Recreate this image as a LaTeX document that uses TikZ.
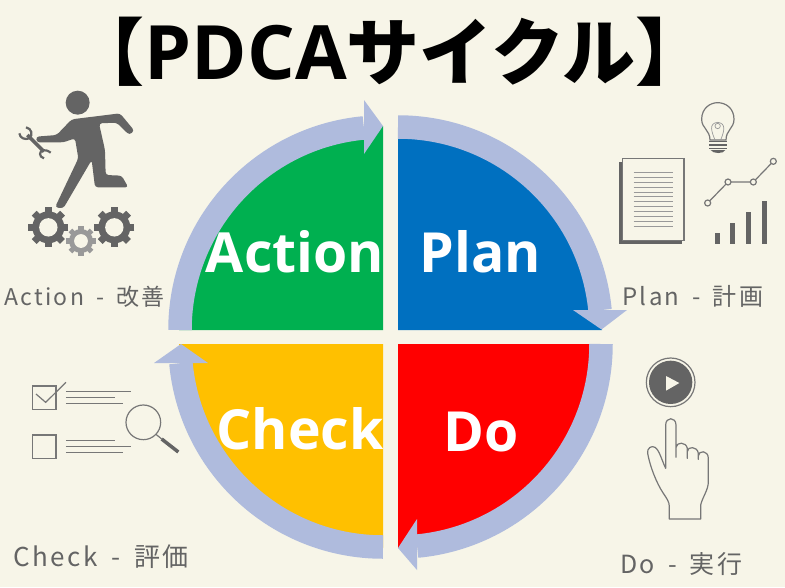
\documentclass[tikz,border=0pt]{standalone}
\usepackage{fontspec}
\setmainfont{Noto Sans CJK JP}
\newfontfamily\latinfont{Open Sans}
\newfontfamily\sidefont[LetterSpace=10]{Noto Sans CJK JP}
\newcommand{\sidedash}{\hspace{.52em}-\hspace{.52em}}
\definecolor{paper}{HTML}{F7F5E8}
\definecolor{ring}{HTML}{AFBBDD}
\definecolor{pdcagreen}{HTML}{00B050}
\definecolor{pdcablue}{HTML}{0070C0}
\definecolor{pdcayellow}{HTML}{FFC000}
\definecolor{icondark}{HTML}{646464}
\definecolor{iconmid}{HTML}{777777}
\definecolor{iconpale}{HTML}{999999}
\begin{document}
\begin{tikzpicture}[x=1pt,y=-1pt,
  head/.style={font=\bfseries\fontsize{73}{73}\selectfont,text=black,inner sep=0pt,anchor=base},
  phase/.style={font=\latinfont\bfseries\fontsize{55.3}{56}\selectfont,text=white,inner sep=0pt,anchor=base},
  side/.style={font=\sidefont\fontsize{#1}{#1}\selectfont,text=icondark,inner sep=0pt,anchor=base west},
  ringarc/.style={line width=23.5pt,draw=ring},
  thinline/.style={line width=1.2pt,draw=iconmid},
  listline/.style={line width=0.9pt,draw=iconmid}]
\useasboundingbox[fill=paper] (0,0) rectangle (785,587);
% quadrants
\foreach \cx/\cy/\ang/\col in {398/330/0/pdcablue,398/344/270/red,383/344/180/pdcayellow,383/330/90/pdcagreen}
  \fill[\col] (\cx,\cy) -- ++(\ang:204pt) arc[start angle=\ang,delta angle=90,radius=204pt] -- cycle;
% ring with its four heads
\foreach \cx/\cy/\ang/\last in {398/330/90/5.6,398/344/0/-84.6,383/344/270/185.4,383/330/180/95.4}
  \draw[ringarc] (\cx,\cy) ++(\ang:203pt) arc[start angle=\ang,end angle=\last,radius=203pt];
\fill[ring] (573,310) -- (627,310) -- (601.5,329.5) -- cycle;
\fill[ring] (417,519) -- (417,570) -- (398,548) -- cycle;
\fill[ring] (154,363) -- (208,363) -- (181,344) -- cycle;
\fill[ring] (364,100) -- (364,154) -- (383,126) -- cycle;
% texts
\node[head] (title) at (390,79) {【{\latinfont\fontsize{75}{75}\selectfont PDCA}サイクル】};
\node[phase] (plan) at (480.5,272) {Plan};
\node[phase] (do) at (481,451) {Do};
\node[phase] (check) at (300,449) {Check};
\node[phase] (action) at (295,272) {Action};
\node[side=24] (plantxt) at (622,305) {Plan\sidedash 計画};
\node[side=25] (dotxt) at (620,573) {Do\sidedash 実行};
\node[side=26] (checktxt) at (13,566) {Check\sidedash 評価};
\node[side=23] (actiontxt) at (4,305) {Action\sidedash 改善};
% improvement man
\begin{scope}[shift={(0,80)},scale=1/3]
\fill[icondark] (233,68) circle[radius=36pt];
\fill[icondark,rounded corners=3pt] (215,118) -- (360,100) -- (403,152) -- (388,165) -- (350,128) -- (297,130) -- (315,210) -- (317,285) -- (365,287) -- (385,322) -- (285,322) -- (275,240) -- (190,385) -- (165,382) -- (235,235) -- (225,175) -- (190,187) -- (110,187) -- (108,170) -- (170,165) -- cycle;
\draw[icondark,line width=3.6pt] (82,165) -- (132,215);
\draw[icondark,line width=2.2pt] (78,142) .. controls (95,145) and (100,165) .. (88,175) .. controls (75,180) and (60,175) .. (58,160);
\draw[icondark,line width=2.2pt] (152,218) .. controls (135,205) and (120,210) .. (120,222) .. controls (120,228) and (124,232) .. (132,235);
\foreach \gx/\gy/\gr/\gc in {145/442/60/icondark,343/442/60/icondark,243/483/45/iconpale} {
  \foreach \a in {0,45,90,135}
    \draw[\gc,line width=\gr*0.115pt] (\gx,\gy) ++(\a:\gr pt) -- ++(\a+180:2*\gr pt);
  \fill[\gc] (\gx,\gy) circle[radius=0.8*\gr pt];
  \fill[paper] (\gx,\gy) circle[radius=0.46*\gr pt];
}
\end{scope}
% plan icons
\begin{scope}[shift={(600,90)},scale=1/3]
\fill[icondark] (57,215) rectangle (245,462);
\draw[thinline,fill=paper] (67,205) rectangle (252,452);
\foreach \y in {247,262,276,291,306,320,335,350,364,379,394,408}
  \draw[iconpale,line width=0.8pt] (101,\y) -- (218,\y);
\draw[thinline] (330,150) .. controls (330,120) and (305,115) .. (305,88) .. controls (305,55) and (330,38) .. (353,38) .. controls (378,38) and (402,55) .. (402,88) .. controls (402,115) and (378,120) .. (378,150) -- cycle;
\draw[iconpale,line width=0.7pt] (353,108) circle[radius=8pt];
\draw[iconpale,line width=0.7pt] (345,150) .. controls (335,125) and (325,100) .. (353,97) .. controls (380,100) and (372,125) .. (362,150);
\foreach \y in {155,165,175}
  \draw[icondark,line width=1.6pt] (328,\y) -- (382,\y);
\fill[icondark] (332,180) -- (376,180) .. controls (372,192) and (338,192) .. (332,180);
\draw[thinline] (323,339) -- (384,276) -- (460,276) -- (520,214);
\foreach \x/\y in {323/339,384/276,460/276,520/214}
  \draw[thinline,fill=paper] (\x,\y) circle[radius=9pt];
\foreach \x/\y in {351/430,398/398,445/366,492/334}
  \fill[icondark] (\x-7.5,\y) rectangle (\x+7.5,462);
\end{scope}
% check icons
\begin{scope}[shift={(0,370)},scale=1/3]
\draw[thinline] (98,48) rectangle (168,118);
\draw[thinline] (98,195) rectangle (168,265);
\draw[thinline] (108,72) -- (137,97) -- (198,37);
\foreach \y/\xe in {63/392,82/345,100/368,211/345,230/392,248/368}
  \draw[listline] (198,\y) -- (\xe,\y);
\draw[thinline] (430,157) circle[radius=52pt];
\draw[thinline] (468,193) -- (485,207);
\draw[icondark,line width=3.5pt] (485,207) -- (535,246);
\end{scope}
% do icons
\begin{scope}[shift={(600,350)},scale=1/3]
\draw[thinline] (212,97) circle[radius=73pt];
\fill[icondark] (212,97) circle[radius=65pt];
\fill[paper] (198,78) -- (198,122) -- (238,99) -- cycle;
\draw[thinline,line join=round] (208,507) -- (302,507) -- (302,465) .. controls (308,440) and (325,420) .. (325,395) -- (325,325) .. controls (325,300) and (295,300) .. (295,318) -- (295,328) -- (295,310) .. controls (292,288) and (262,288) .. (262,305) -- (262,325) -- (262,295) .. controls (258,275) and (230,275) .. (228,292) -- (228,322) -- (228,225) .. controls (228,200) and (197,200) .. (197,225) -- (197,355) .. controls (185,330) and (178,300) .. (165,292) .. controls (155,285) and (140,295) .. (143,310) .. controls (150,350) and (170,400) .. (190,430) .. controls (200,445) and (208,455) .. (208,470) -- cycle;
\end{scope}
\end{tikzpicture}
\end{document}
